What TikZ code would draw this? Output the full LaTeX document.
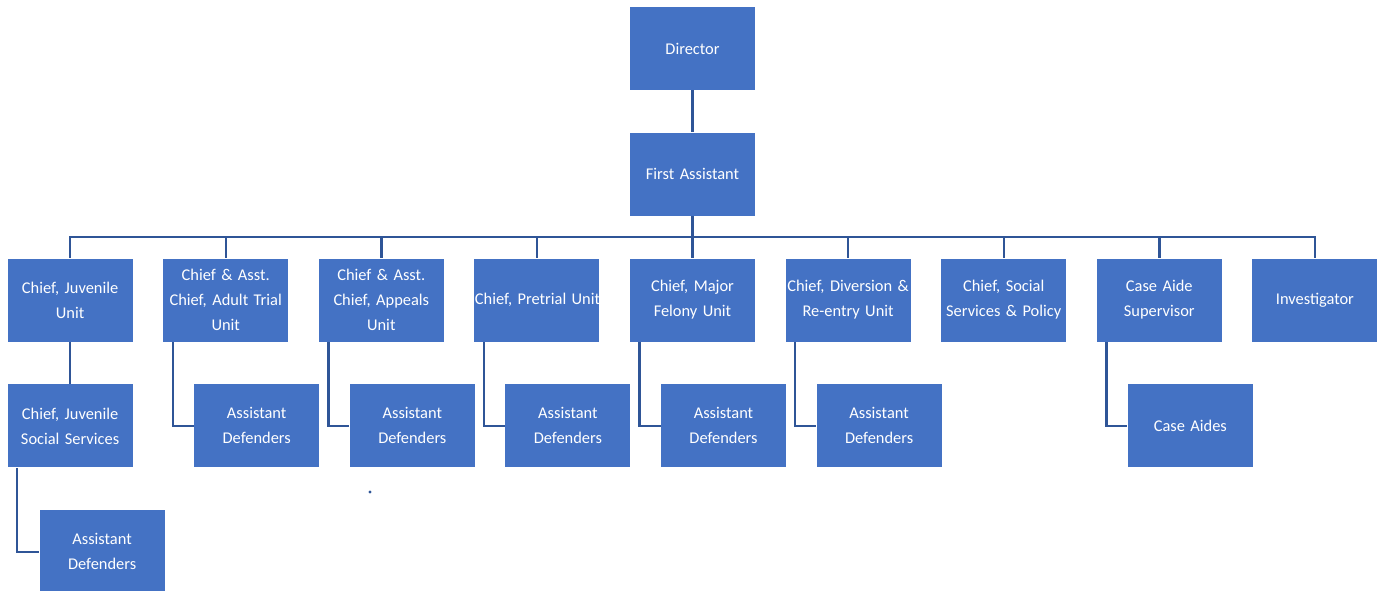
\documentclass[tikz,border=0pt]{standalone}
\usepackage{fontspec}
\setmainfont{Carlito}
\usepackage{tikz}
\usetikzlibrary{positioning,calc}
\definecolor{boxBlue}{RGB}{68,114,196}
\definecolor{lineBlue}{RGB}{47,85,151}

\begin{document}
\begin{tikzpicture}[
box/.style={fill=boxBlue,draw=none,text=white,align=center,inner sep=0pt,text width=62pt,minimum width=62.5pt,minimum height=41.5pt,font=\fontsize{8.2pt}{12.5pt}\selectfont},
link/.style={draw=lineBlue,line width=1.2pt}
]
\useasboundingbox (0,0) rectangle (692.5pt,-295pt);
\node[box] (dir) at (346.25pt,-24.25pt) {Director};
\node[box,below=21pt of dir] (fa) {First Assistant};
\node[box,below=21pt of fa] (c5) {Chief, Major\\Felony Unit};
\node[box,left=14.9pt of c5] (c4) {\mbox{Chief, Pretrial Unit}};
\node[box,left=14.9pt of c4] (c3) {Chief \& Asst.\\Chief, Appeals\\Unit};
\node[box,left=14.9pt of c3] (c2) {Chief \& Asst.\\Chief, Adult Trial\\Unit};
\node[box,left=14.9pt of c2] (c1) {Chief, Juvenile\\Unit};
\node[box,right=14.9pt of c5] (c6) {Chief, Diversion \&\\Re-entry Unit};
\node[box,right=14.9pt of c6] (c7) {Chief, Social\\Services \& Policy};
\node[box,right=14.9pt of c7] (c8) {Case Aide\\Supervisor};
\node[box,right=14.9pt of c8] (c9) {Investigator};
% second row
\node[box,below=21pt of c1] (j2) {Chief, Juvenile\\Social Services};
\node[box,anchor=north west] (j3) at ([shift={(16pt,-21pt)}]j2.south west) {Assistant\\Defenders};
\foreach \n in {2,...,6}
\node[box,anchor=north west] (s\n) at ([shift={(15.5pt,-21pt)}]c\n.south west) {Assistant\\Defenders};
\node[box,anchor=north west] (s8) at ([shift={(15.5pt,-21pt)}]c8.south west) {Case Aides};
% connectors
\draw[link] (dir) -- (fa);
\coordinate (bus) at ($(fa.south)!0.5!(c5.north)$);
\foreach \n in {1,...,9}
\draw[link] (fa.south) -- (bus) -| (c\n.north);
\draw[link] (c1) -- (j2);
\draw[link] ([xshift=5pt]j2.south west) |- (j3.west);
\foreach \n in {2,...,6,8}
\draw[link] ([xshift=5pt]c\n.south west) |- (s\n.west);
\fill[lineBlue] (185pt,-246pt) circle (0.8pt);
\end{tikzpicture}
\end{document}
